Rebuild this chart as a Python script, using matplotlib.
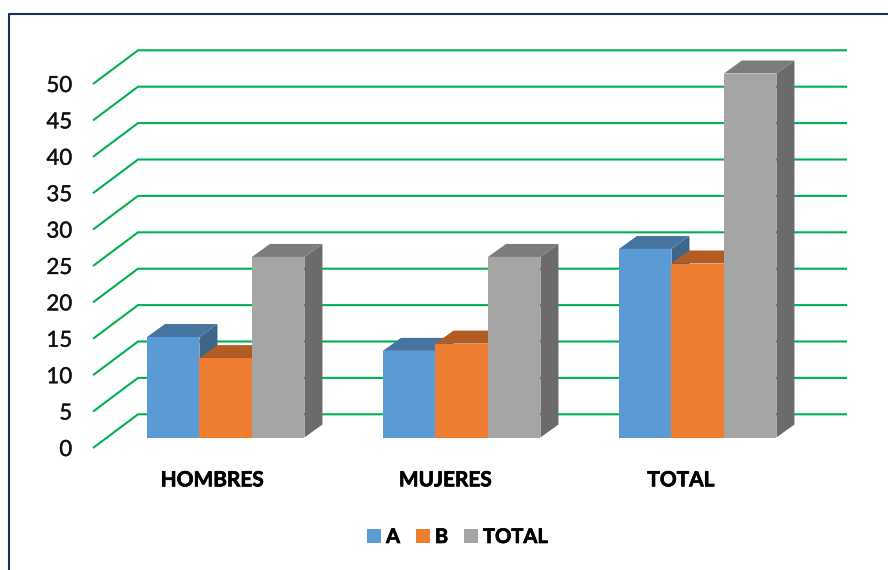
import matplotlib
matplotlib.use("Agg")
import matplotlib.pyplot as plt
import matplotlib.patheffects as pe
from matplotlib.patches import Patch, Polygon
from matplotlib.lines import Line2D

categories = ["HOMBRES", "MUJERES", "TOTAL"]
series_names = ["A", "B", "TOTAL"]
values_a = [13.8, 11.9, 25.9]
values_b = [10.9, 12.9, 23.9]
values_total = [24.8, 24.8, 50]
y_ticks = [0, 5, 10, 15, 20, 25, 30, 35, 40, 45, 50]

front_colors = ["#5B9BD5", "#ED7D31", "#A5A5A5"]
top_colors = ["#4575A0", "#B05C22", "#7C7C7C"]
side_colors = ["#3D6688", "#A04F1C", "#6B6B6B"]
GREEN = "#00B050"
FRAME = "#17305F"

W, H = 888, 570
PX_Y = 7.28          # pixels per value unit
PX_X = 236.0         # pixels per category
X0 = 225.7           # pixel of the first category
Y0 = 448.0           # pixel of value 0 on the front edge
LABEL_SHIFT_PX = [-13.7, -16.5, -17]


def dx(px):
    return px / PX_X


def dy(px):
    return px / PX_Y


plt.rcParams["font.family"] = ["Lato", "DejaVu Sans"]
fig = plt.figure(figsize=(W / 100, H / 100), dpi=100)
ax = fig.add_axes([0, 0, 1, 1])
ax.set_xlim(-X0 / PX_X, (W - X0) / PX_X)
ax.set_ylim((Y0 - H) / PX_Y, Y0 / PX_Y)
ax.patch.set_alpha(0)

# frame of the chart area
fig.add_artist(Line2D([9.2 / W, 9.2 / W, 1], [0, 1 - 14.2 / H, 1 - 14.2 / H],
                      color=FRAME, lw=1.5, transform=fig.transFigure))

# floor / wall grid
x_front = (93 - X0) / PX_X
x_back = (138 - X0) / PX_X
x_end = (847 - X0) / PX_X
rise = dy(33.7)
for v in y_ticks:
    ax.plot([x_front, x_back, x_end], [v, v + rise, v + rise], color=GREEN,
            lw=1.5, solid_joinstyle="miter", solid_capstyle="butt", zorder=1)

# bars
bar_w = dx(52.5)
base = dy(Y0 - 437.5)
depth_x, depth_y = dx(18), dy(13)
all_series = [values_a, values_b, values_total]
z = 2
for c in range(len(categories)):
    for s, vals in enumerate(all_series):
        left = c + (s - 1.5) * bar_w
        right = left + bar_w
        top = base + vals[c]
        ax.add_patch(Polygon([(right, base), (right + depth_x, base + depth_y),
                              (right + depth_x, top + depth_y), (right, top)],
                             closed=True, fc=side_colors[s], ec="none", zorder=z))
        ax.add_patch(Polygon([(left, top), (right, top),
                              (right + depth_x, top + depth_y), (left + depth_x, top + depth_y)],
                             closed=True, fc=top_colors[s], ec="none", zorder=z))
        ax.bar(c + (s - 1) * bar_w, vals[c], width=bar_w, bottom=base,
               color=front_colors[s], edgecolor="none", zorder=z + 0.5)
        z += 1

# axes
for name in ("top", "right"):
    ax.spines[name].set_visible(False)
ax.spines["left"].set_position(("data", x_front))
ax.spines["left"].set_visible(False)
ax.spines["bottom"].set_position(("data", dy(Y0 - 462)))
ax.spines["bottom"].set_visible(False)

ax.set_yticks(y_ticks)
ax.set_yticklabels([str(v) for v in y_ticks], fontsize=16, color="#111111")
ax.tick_params(axis="y", length=0, pad=15)

ax.set_xticks([c + dx(LABEL_SHIFT_PX[c]) for c in range(len(categories))])
ax.set_xticklabels(categories, fontsize=15, fontweight="bold", color="#000000")
ax.tick_params(axis="x", length=0, pad=6)

heavy = [pe.withStroke(linewidth=0.5, foreground="#000000")]
for t in ax.get_xticklabels():
    t.set_path_effects(heavy)
for t in ax.get_yticklabels():
    t.set_path_effects([pe.withStroke(linewidth=0.25, foreground="#111111")])

# legend
handles = [Patch(fc=front_colors[i], ec="none", label=series_names[i]) for i in range(3)]
leg = fig.legend(handles=handles, ncol=3, frameon=False, loc="center",
                 bbox_to_anchor=(457.5 / W, 1 - 537 / H), prop={"size": 14.5, "weight": "bold"},
                 handlelength=0.68, handleheight=0.68, handletextpad=0.25, columnspacing=0.8,
                 labelcolor="#000000")
for t in leg.get_texts():
    t.set_path_effects(heavy)

fig.savefig("out.png", dpi=100)
